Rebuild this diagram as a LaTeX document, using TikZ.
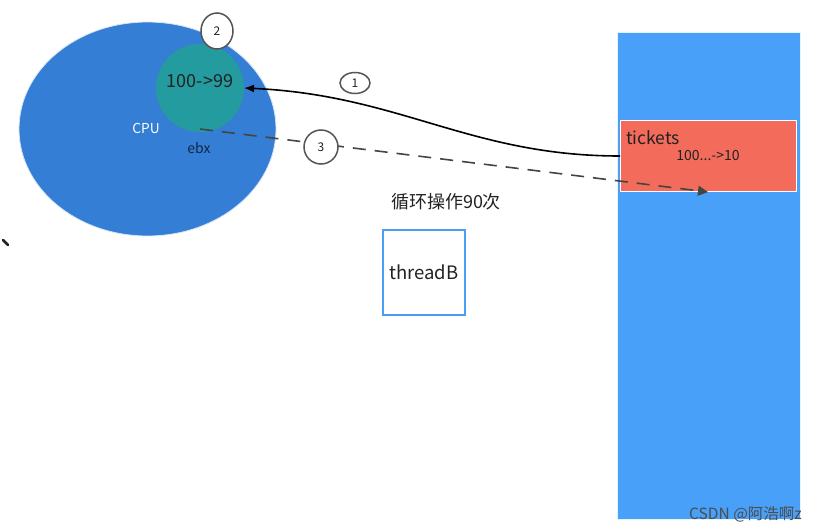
\documentclass[tikz,border=0pt]{standalone}
\usepackage{fontspec}
\setmainfont{Noto Sans CJK SC}
\usetikzlibrary{arrows.meta,shapes.geometric}
\definecolor{cpublue}{HTML}{357ED5}
\definecolor{teal2}{HTML}{239B9F}
\definecolor{memblue}{HTML}{48A0F8}
\definecolor{tickred}{HTML}{F26B5B}
\definecolor{boxblue}{HTML}{4A9FF5}
\definecolor{txtdark}{HTML}{222222}
\definecolor{numgray}{HTML}{555555}
\tikzset{
  numcirc/.style={draw=numgray, line width=1.5pt, fill=white, inner sep=0pt, font=\fontsize{12}{13}\selectfont, text=txtdark},
  lbl/.style={inner sep=0pt, text=txtdark},
}
\begin{document}
\begin{tikzpicture}[x=1pt,y=-1pt]
\useasboundingbox (0,0) rectangle (820,532);
% memory column
\node[draw=white!85!memblue, line width=1pt, fill=memblue, minimum width=183pt, minimum height=487pt, inner sep=0pt, anchor=north west] (mem) at (617,32) {};
\node[draw=white, line width=1.2pt, fill=tickred, minimum width=176pt, minimum height=71pt, inner sep=0pt, anchor=north west] (tick) at (620,120) {};
\node[lbl, anchor=west, font=\fontsize{17.5}{19}\selectfont] (tickt) at (626,138) {tickets};
\node[lbl, font=\fontsize{14}{16}\selectfont] (tickv) at (708,156) {100...->10};
% CPU
\node[draw=white!80!cpublue, line width=0.8pt, fill=cpublue, ellipse, minimum width=257pt, minimum height=214pt, inner sep=0pt] (cpu) at (147.5,129) {};
\node[fill=teal2, circle, minimum size=88pt, inner sep=0pt] (reg) at (200,88) {};
\node[lbl, font=\fontsize{18}{20}\selectfont] (regt) at (200,81) {100->99};
\node[inner sep=0pt, text=white, font=\fontsize{13.7}{15}\selectfont] (cpul) at (146,128) {CPU};
\node[lbl, text=cpublue!30!black, font=\fontsize{14}{15}\selectfont] (ebx) at (199,148) {ebx};
\coordinate (dstart) at (200,129);
\coordinate (dend) at (708,192);
\coordinate (sstart) at (620,156);
\coordinate (send) at (244,88);
% connectors
\draw[line width=1.6pt, -{Latex[length=10pt,width=8pt]}] (sstart) .. controls (470,156) and (400,95) .. (send);
\draw[numgray!80!black, line width=1.6pt, dash pattern=on 13pt off 9pt, -{Triangle[length=10pt,width=10pt]}] (dstart) -- (dend);
% number markers
\node[numcirc, ellipse, minimum width=32pt, minimum height=36pt] (n2) at (217,31) {2};
\node[numcirc, ellipse, minimum width=30pt, minimum height=21pt] (n1) at (355,83) {1};
\node[numcirc, circle, minimum size=34pt] (n3) at (321,147) {3};
% loop label
\node[lbl, font=\fontsize{18}{20}\selectfont] (loop) at (446,202) {循环操作90次};
% threadB
\node[draw=boxblue, line width=1.5pt, fill=white, minimum width=82pt, minimum height=85pt, inner sep=0pt, text=txtdark, font=\fontsize{18.5}{20}\selectfont] (thr) at (424,272.5) {threadB};
% stray mark
\coordinate (m1) at (3,240);
\coordinate (m2) at (8,245);
\draw[line width=2.5pt, line cap=round, txtdark] (m1) -- (m2);
% watermark
\begin{scope}
\clip (600,500) rectangle (803,532);
\node[inner sep=0pt, anchor=west, text=gray!60!black, font=\fontsize{15.5}{17}\selectfont] (wm) at (689,514) {CSDN @阿浩啊z};
\end{scope}
\end{tikzpicture}
\end{document}
